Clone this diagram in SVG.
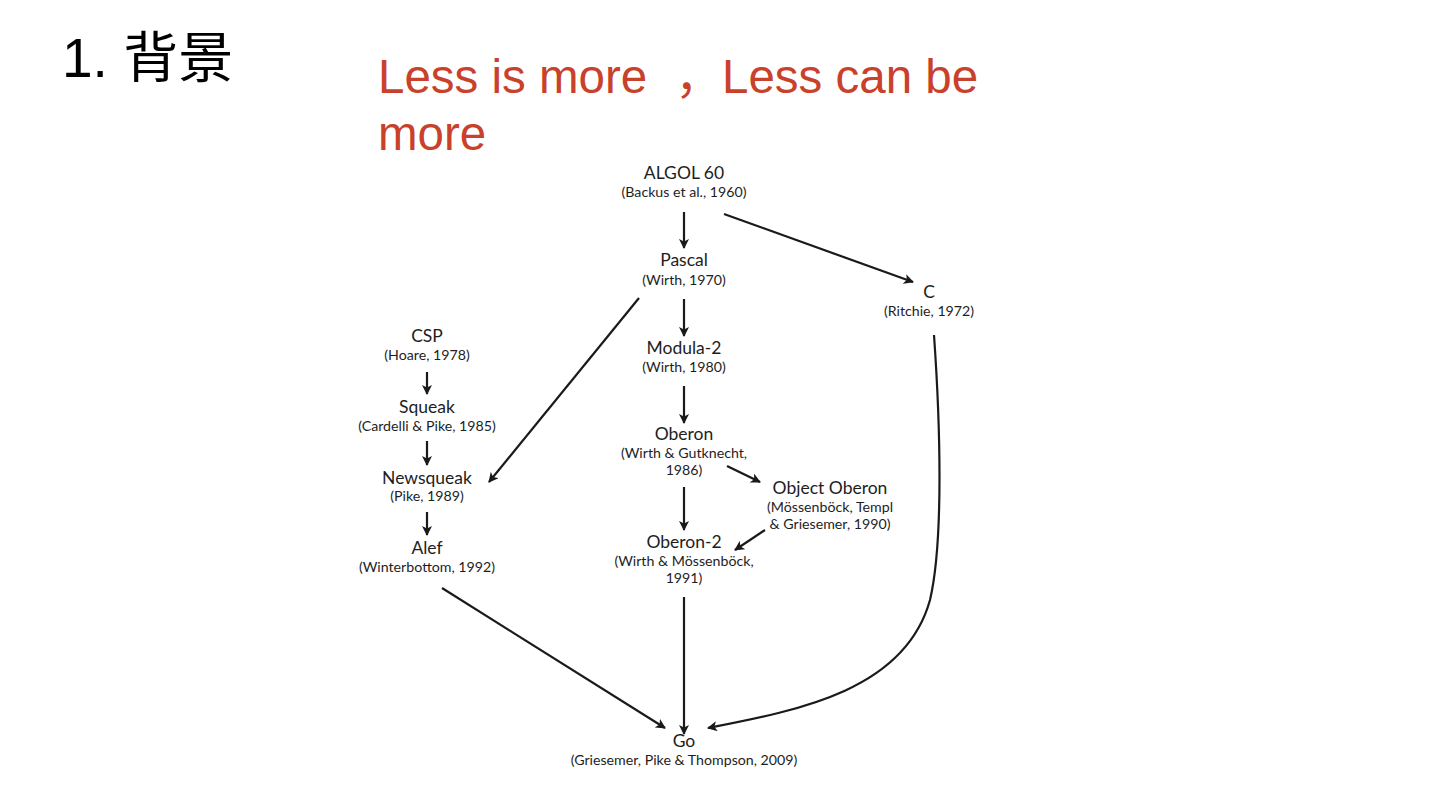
<svg xmlns="http://www.w3.org/2000/svg" width="1440" height="810" viewBox="0 0 1440 810">
<style>
.t{font-family:Lato,"Open Sans","Liberation Sans",sans-serif;fill:#1e1e1e;text-anchor:middle}
.n{font-size:17.5px}
.s{font-size:14.2px}
.e{fill:none;stroke:#1a1a1a;stroke-width:2.2}
</style>
<defs>
<marker id="ah" viewBox="0 0 10 10" refX="9" refY="5" markerWidth="10" markerHeight="10" markerUnits="userSpaceOnUse" orient="auto">
<path d="M0,0 L10,5 L0,10 L2.5,5 z" fill="#1a1a1a"/>
</marker>
</defs>
<rect width="1440" height="810" fill="#fff"/>
<g id="title">
<text x="62" y="77" font-family="'Liberation Sans','Noto Sans CJK SC',sans-serif" font-size="55" fill="#000">1. 背景</text>
</g>
<g id="subtitle" font-family="'Liberation Sans','Noto Sans CJK SC',sans-serif" font-size="47.5" fill="#c9412b">
<text y="93"><tspan x="378">Less is more</tspan><tspan x="675">，</tspan><tspan x="722">Less can be</tspan></text>
<text x="378" y="150">more</text>
</g>
<g id="connectors" class="e" marker-end="url(#ah)">
<path d="M684,212 L684,248"/>
<path d="M724,214 L913,282"/>
<path d="M684,299 L684,336"/>
<path d="M639,298 L489,482"/>
<path d="M684,386 L684,423"/>
<path d="M727,466 L760,482"/>
<path d="M684,487 L684,530"/>
<path d="M765,530 L735,550"/>
<path d="M684,597 L684,734"/>
<path d="M427,372 L427,394"/>
<path d="M427,441 L427,465"/>
<path d="M427,512 L427,535"/>
<path d="M442,588 L665,728"/>
<path d="M934,335 C940,420 944,540 930,600 C905,690 800,710 708,728"/>
</g>
<g id="algol"><text class="t n" x="684" y="179">ALGOL 60</text><text class="t s" x="684" y="197">(Backus et al., 1960)</text></g>
<g id="pascal"><text class="t n" x="684" y="266">Pascal</text><text class="t s" x="684" y="285">(Wirth, 1970)</text></g>
<g id="c"><text class="t n" x="929" y="298">C</text><text class="t s" x="929" y="316">(Ritchie, 1972)</text></g>
<g id="modula2"><text class="t n" x="684" y="354">Modula-2</text><text class="t s" x="684" y="372">(Wirth, 1980)</text></g>
<g id="oberon"><text class="t n" x="684" y="440">Oberon</text><text class="t s" x="684" y="458">(Wirth &amp; Gutknecht,</text><text class="t s" x="684" y="475">1986)</text></g>
<g id="objoberon"><text class="t n" x="830" y="494">Object Oberon</text><text class="t s" x="830" y="512">(Mössenböck, Templ</text><text class="t s" x="830" y="529">&amp; Griesemer, 1990)</text></g>
<g id="oberon2"><text class="t n" x="684" y="548">Oberon-2</text><text class="t s" x="684" y="566">(Wirth &amp; Mössenböck,</text><text class="t s" x="684" y="583">1991)</text></g>
<g id="csp"><text class="t n" x="427" y="342">CSP</text><text class="t s" x="427" y="360">(Hoare, 1978)</text></g>
<g id="squeak"><text class="t n" x="427" y="413">Squeak</text><text class="t s" x="427" y="431">(Cardelli &amp; Pike, 1985)</text></g>
<g id="newsqueak"><text class="t n" x="427" y="484">Newsqueak</text><text class="t s" x="427" y="501">(Pike, 1989)</text></g>
<g id="alef"><text class="t n" x="427" y="554">Alef</text><text class="t s" x="427" y="572">(Winterbottom, 1992)</text></g>
<g id="go"><text class="t n" x="684" y="747">Go</text><text class="t s" x="684" y="765">(Griesemer, Pike &amp; Thompson, 2009)</text></g>
</svg>
